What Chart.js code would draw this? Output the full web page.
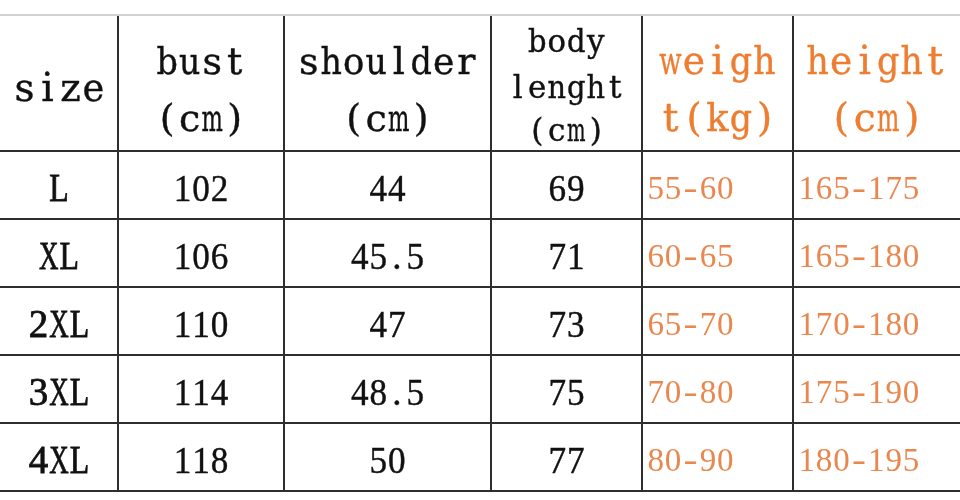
<!DOCTYPE html>
<html>
<head>
<meta charset="utf-8">
<script src="https://cdn.jsdelivr.net/npm/chart.js@4.4.1/dist/chart.umd.min.js"></script>
<style>
  html, body { margin: 0; padding: 0; background: #fff; }
  canvas { display: block; }
</style>
</head>
<body>
<canvas id="sizeChart" width="960" height="500"></canvas>
<script>
// table content
const headers = [["size"], ["bust", "(cm)"], ["shoulder", "(cm)"], ["body", "lenght", "(cm)"], ["weigh", "t(kg)"], ["height", "(cm)"]];
const sizes = ["L", "XL", "2XL", "3XL", "4XL"];
const bust = ["102", "106", "110", "114", "118"];
const shoulder = ["44", "45.5", "47", "48.5", "50"];
const bodyLength = ["69", "71", "73", "75", "77"];
const weight = ["55-60", "60-65", "65-70", "70-80", "80-90"];
const height = ["165-175", "165-180", "170-180", "175-190", "180-195"];

// layout: column borders on the x scale, row borders on the y scale (header = 2 rows)
const colEdges = [0, 118, 284, 491, 642, 793, 960];
const rowEdges = [0, 2, 3, 4, 5, 6, 7];
const BLACK = "#111111";
const ORANGE = "#ED7D31";
const ORANGE_LIGHT = "#E9874F";

const columns = [sizes, bust, shoulder, bodyLength, weight, height];
const colStyle = [
    { color: BLACK, align: "center" },
    { color: BLACK, align: "center" },
    { color: BLACK, align: "center" },
    { color: BLACK, align: "center" },
    { color: ORANGE_LIGHT, align: "left" },
    { color: ORANGE_LIGHT, align: "left" },
];
const headColor = [BLACK, BLACK, BLACK, BLACK, ORANGE, ORANGE];

// draw text with a fixed advance per character (like a half-width CJK font)
function drawMono(ctx, text, x, baseline, advance, align, stroke) {
    let start = align === "left" ? x : x - (text.length * advance) / 2;
    for (let i = 0; i < text.length; i++) {
        let ch = text[i];
        let w = ctx.measureText(ch).width;
        let cx = start + advance * (i + 0.5);
        ctx.save();
        ctx.translate(cx, baseline);
        let fit = advance * 0.95;
        if (ch === "-") {
            // the original font has a long hyphen
            ctx.scale((advance * 0.8) / w, 1);
        } else if (w > fit) {
            ctx.scale(fit / w, 1);
        }
        ctx.textAlign = "center";
        ctx.fillText(ch, 0, 0);
        if (stroke) {
            ctx.lineWidth = stroke;
            ctx.strokeStyle = ctx.fillStyle;
            ctx.strokeText(ch, 0, 0);
        }
        ctx.restore();
    }
}

const tableText = {
    id: "tableText",
    afterDraw(chart) {
        const ctx = chart.ctx;
        const x = chart.scales.x;
        const y = chart.scales.y;
        ctx.save();
        ctx.textBaseline = "alphabetic";

        // header row
        headers.forEach(function (lines, c) {
            let mid = x.getPixelForValue((colEdges[c] + colEdges[c + 1]) / 2);
            let baselines, font, adv;
            if (lines.length === 1) {
                baselines = [1.27];
                font = "39px 'DejaVu Serif'";
                adv = 23;
            } else if (lines.length === 2) {
                baselines = [0.87, 1.71];
                font = c >= 4 ? "39px 'DejaVu Serif'" : "38px 'DejaVu Serif'";
                adv = c >= 4 ? 23.5 : 22.5;
            } else {
                baselines = [0.55, 1.22, 1.86];
                font = "31px 'DejaVu Serif'";
                adv = 19.5;
            }
            ctx.font = font;
            ctx.fillStyle = headColor[c];
            lines.forEach(function (txt, i) {
                drawMono(ctx, txt, mid, y.getPixelForValue(baselines[i]), adv, "center", 0.4);
            });
        });

        // body rows
        columns.forEach(function (values, c) {
            let style = colStyle[c];
            values.forEach(function (val, r) {
                let top = rowEdges[r + 1];
                if (style.align === "left") {
                    ctx.font = "34px 'Liberation Serif'";
                    ctx.fillStyle = style.color;
                    let left = x.getPixelForValue(colEdges[c]) + 5;
                    drawMono(ctx, val, left, y.getPixelForValue(top + 0.71), 17.4, "left", 0);
                } else {
                    let mid = x.getPixelForValue((colEdges[c] + colEdges[c + 1]) / 2);
                    ctx.font = c === 0 ? "39px 'Liberation Serif'" : "37px 'Liberation Serif'";
                    ctx.fillStyle = style.color;
                    drawMono(ctx, val, mid, y.getPixelForValue(top + 0.74), c === 0 ? 20.5 : 18.5, "center", c === 0 ? 0.8 : 0.4);
                }
            });
        });
        ctx.restore();
    },
};

new Chart(document.getElementById("sizeChart"), {
    type: "scatter",
    data: { datasets: [] },
    options: {
        responsive: false,
        animation: false,
        layout: { padding: { top: 15, bottom: 9, left: 0, right: 0 } },
        plugins: { legend: { display: false }, tooltip: { enabled: false } },
        scales: {
            x: {
                type: "linear",
                min: colEdges[0],
                max: colEdges[colEdges.length - 1],
                afterBuildTicks: function (axis) {
                    axis.ticks = colEdges.map(function (v) { return { value: v }; });
                },
                ticks: { display: false },
                border: { display: false },
                grid: {
                    drawTicks: false,
                    lineWidth: 2,
                    color: function (c) {
                        let v = c.tick && c.tick.value;
                        return v === colEdges[0] || v === colEdges[colEdges.length - 1] ? "rgba(0,0,0,0)" : "#2e2e2e";
                    },
                },
            },
            y: {
                type: "linear",
                reverse: true,
                min: rowEdges[0],
                max: rowEdges[rowEdges.length - 1],
                afterBuildTicks: function (axis) {
                    axis.ticks = rowEdges.map(function (v) { return { value: v }; });
                },
                ticks: { display: false },
                border: { display: false },
                grid: {
                    drawTicks: false,
                    lineWidth: 2,
                    color: function (c) {
                        let v = c.tick && c.tick.value;
                        return v === rowEdges[0] ? "#d2d2d2" : "#2e2e2e";
                    },
                },
            },
        },
    },
    plugins: [tableText],
});
</script>
</body>
</html>
